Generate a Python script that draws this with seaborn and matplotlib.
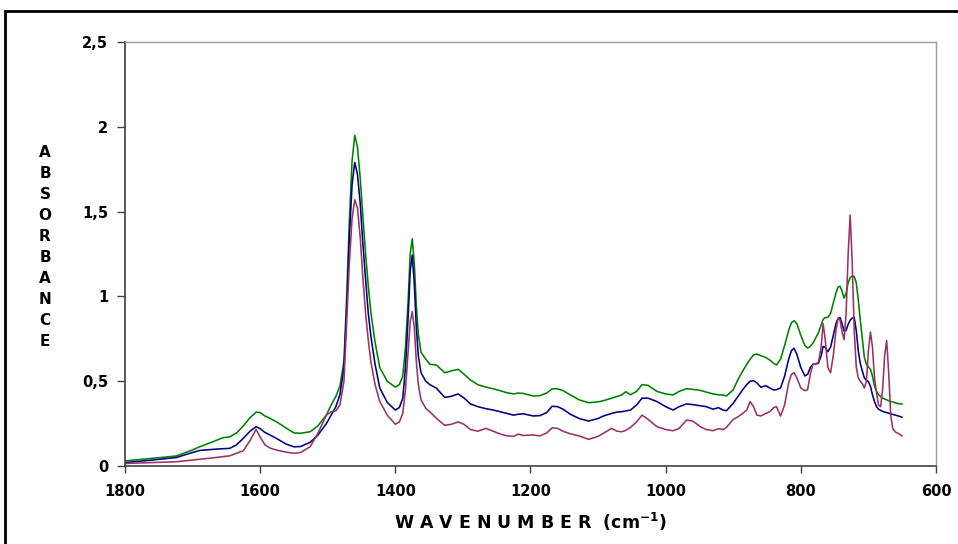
import matplotlib
matplotlib.use("Agg")
import matplotlib.pyplot as plt
from matplotlib.patches import Rectangle
import seaborn as sns
import pandas as pd

# ---- data ----
wavenumber = [1800, 1760, 1724, 1700, 1689, 1670, 1655, 1645, 1635, 1625, 1615, 1606, 1600, 1593, 1585,
              1576, 1562, 1550, 1540, 1526, 1515, 1502, 1495, 1488, 1482, 1476, 1472, 1468, 1464, 1460,
              1456, 1452, 1448, 1444, 1440, 1436, 1430, 1423, 1412, 1400, 1394, 1389, 1385, 1381, 1378,
              1375, 1372, 1369, 1366, 1362, 1355, 1349, 1339, 1327, 1318, 1307, 1298, 1289, 1278, 1266,
              1255, 1245, 1235, 1225, 1218, 1211, 1196, 1186, 1176, 1168, 1160, 1152, 1141, 1128, 1114,
              1100, 1092, 1080, 1072, 1065, 1059, 1052, 1043, 1035, 1026, 1013, 1000, 989, 980, 969,
              960, 948, 940, 930, 922, 915, 910, 900, 893, 886, 880, 875, 870, 865, 859,
              852, 846, 840, 836, 830, 824, 818, 814, 810, 806, 800, 794, 790, 786, 782,
              778, 774, 770, 767, 764, 760, 756, 752, 748, 745, 742, 739, 736, 733, 730,
              727, 724, 721, 718, 715, 712, 709, 706, 703, 700, 697, 694, 691, 688, 685,
              682, 679, 676, 673, 670, 667, 664, 660, 655, 650]

green = [0.030, 0.045, 0.059, 0.095, 0.114, 0.143, 0.167, 0.172, 0.195, 0.236, 0.285, 0.318, 0.315, 0.295, 0.280,
         0.261, 0.225, 0.195, 0.193, 0.202, 0.235, 0.300, 0.360, 0.410, 0.470, 0.620, 1.000, 1.450, 1.800, 1.950,
         1.880, 1.700, 1.470, 1.250, 1.060, 0.900, 0.730, 0.580, 0.500, 0.465, 0.480, 0.530, 0.700, 0.980, 1.250,
         1.340, 1.200, 0.950, 0.780, 0.670, 0.630, 0.600, 0.595, 0.550, 0.560, 0.570, 0.540, 0.507, 0.480, 0.465,
         0.455, 0.444, 0.432, 0.425, 0.430, 0.428, 0.413, 0.415, 0.430, 0.455, 0.455, 0.445, 0.419, 0.390, 0.373,
         0.378, 0.385, 0.400, 0.410, 0.419, 0.438, 0.420, 0.440, 0.480, 0.475, 0.440, 0.425, 0.419, 0.440, 0.456,
         0.452, 0.445, 0.436, 0.425, 0.420, 0.418, 0.413, 0.450, 0.510, 0.560, 0.600, 0.630, 0.655, 0.660, 0.650,
         0.640, 0.625, 0.605, 0.595, 0.630, 0.710, 0.800, 0.845, 0.857, 0.840, 0.770, 0.710, 0.695, 0.705, 0.725,
         0.755, 0.785, 0.830, 0.865, 0.875, 0.876, 0.900, 0.960, 1.020, 1.055, 1.060, 1.030, 0.990, 1.020, 1.080,
         1.110, 1.120, 1.118, 1.080, 0.980, 0.860, 0.750, 0.640, 0.600, 0.585, 0.570, 0.530, 0.470, 0.440, 0.420,
         0.410, 0.400, 0.395, 0.390, 0.385, 0.380, 0.378, 0.372, 0.367, 0.365]

blue = [0.020, 0.035, 0.050, 0.080, 0.092, 0.098, 0.102, 0.104, 0.125, 0.163, 0.205, 0.232, 0.220, 0.198, 0.182,
        0.163, 0.130, 0.113, 0.115, 0.140, 0.180, 0.250, 0.300, 0.350, 0.420, 0.580, 0.920, 1.350, 1.660, 1.790,
        1.720, 1.550, 1.310, 1.100, 0.900, 0.760, 0.600, 0.460, 0.375, 0.330, 0.345, 0.400, 0.580, 0.880, 1.150,
        1.244, 1.080, 0.820, 0.650, 0.550, 0.500, 0.480, 0.458, 0.405, 0.410, 0.425, 0.400, 0.366, 0.350, 0.338,
        0.330, 0.320, 0.310, 0.300, 0.305, 0.308, 0.295, 0.297, 0.315, 0.352, 0.350, 0.335, 0.305, 0.280, 0.265,
        0.280, 0.295, 0.310, 0.318, 0.320, 0.325, 0.330, 0.360, 0.400, 0.400, 0.380, 0.350, 0.330, 0.350, 0.366,
        0.362, 0.355, 0.350, 0.335, 0.344, 0.330, 0.326, 0.370, 0.410, 0.450, 0.480, 0.500, 0.503, 0.490, 0.464,
        0.474, 0.460, 0.448, 0.450, 0.460, 0.530, 0.630, 0.680, 0.694, 0.660, 0.580, 0.531, 0.540, 0.580, 0.600,
        0.602, 0.605, 0.650, 0.705, 0.700, 0.674, 0.700, 0.770, 0.840, 0.870, 0.875, 0.840, 0.795, 0.800, 0.835,
        0.860, 0.872, 0.877, 0.800, 0.680, 0.605, 0.560, 0.520, 0.505, 0.497, 0.470, 0.420, 0.380, 0.350, 0.335,
        0.328, 0.322, 0.318, 0.315, 0.312, 0.308, 0.305, 0.300, 0.294, 0.287]

magenta = [0.015, 0.020, 0.025, 0.035, 0.040, 0.048, 0.055, 0.060, 0.075, 0.090, 0.150, 0.216, 0.170, 0.125, 0.105,
           0.094, 0.082, 0.075, 0.080, 0.114, 0.190, 0.300, 0.320, 0.325, 0.360, 0.500, 0.850, 1.200, 1.460, 1.570,
           1.520, 1.350, 1.110, 0.900, 0.740, 0.610, 0.480, 0.380, 0.300, 0.246, 0.260, 0.310, 0.450, 0.680, 0.850,
           0.910, 0.820, 0.620, 0.480, 0.390, 0.340, 0.320, 0.280, 0.240, 0.245, 0.260, 0.245, 0.215, 0.205, 0.222,
           0.205, 0.189, 0.178, 0.175, 0.188, 0.180, 0.183, 0.177, 0.195, 0.225, 0.222, 0.205, 0.190, 0.177, 0.157,
           0.175, 0.193, 0.222, 0.205, 0.202, 0.210, 0.228, 0.260, 0.300, 0.275, 0.232, 0.215, 0.208, 0.222, 0.271,
           0.265, 0.230, 0.215, 0.208, 0.220, 0.215, 0.228, 0.275, 0.290, 0.310, 0.330, 0.380, 0.350, 0.300, 0.295,
           0.310, 0.320, 0.345, 0.350, 0.295, 0.360, 0.490, 0.540, 0.550, 0.520, 0.460, 0.444, 0.450, 0.540, 0.600,
           0.602, 0.610, 0.700, 0.840, 0.750, 0.580, 0.550, 0.650, 0.800, 0.870, 0.860, 0.790, 0.745, 0.900, 1.250,
           1.480, 1.200, 0.800, 0.585, 0.520, 0.500, 0.485, 0.460, 0.500, 0.680, 0.790, 0.700, 0.520, 0.430, 0.360,
           0.350, 0.450, 0.650, 0.740, 0.550, 0.300, 0.220, 0.200, 0.190, 0.177]

series_names = ["green", "blue", "magenta"]
series_colors = ["#008000", "#000080", "#993366"]
x_ticks = [1800, 1600, 1400, 1200, 1000, 800, 600]
y_ticks = [0, 0.5, 1, 1.5, 2, 2.5]
y_tick_labels = ["0", "0,5", "1", "1,5", "2", "2,5"]
y_label_letters = list("ABSORBANCE")
x_label = "W A V E N U M B E R  (cm$^{\\mathbf{-1}}$)"

# ---- build long-form table ----
frames = []
for name, vals in zip(series_names, [green, blue, magenta]):
    frames.append(pd.DataFrame({"wavenumber": wavenumber, "absorbance": vals, "series": name}))
df = pd.concat(frames, ignore_index=True)

sns.set_theme(style="white")
plt.rcParams["font.family"] = ["DejaVu Sans"]
plt.rcParams["text.color"] = "black"
plt.rcParams["xtick.color"] = "black"
plt.rcParams["ytick.color"] = "black"

fig = plt.figure(figsize=(9.58, 5.44), dpi=100)
ax = fig.add_axes([125 / 958, 1 - 466 / 544, 811 / 958, 424 / 544])

sns.lineplot(data=df, x="wavenumber", y="absorbance", hue="series",
             palette=dict(zip(series_names, series_colors)), estimator=None,
             sort=True, linewidth=1.15, legend=False, ax=ax)

ax.set_xlim(1800, 600)
ax.set_ylim(0, 2.5)
ax.set_xticks(x_ticks)
ax.set_xticklabels([str(t) for t in x_ticks], fontsize=10.5, fontweight="bold", color="black")
ax.set_yticks(y_ticks)
ax.set_yticklabels(y_tick_labels, fontsize=10.5, fontweight="bold", color="black")
ax.tick_params(axis="x", which="major", direction="out", length=5, width=1,
               color="#404040", pad=8, bottom=True)
ax.tick_params(axis="y", which="major", direction="out", length=6, width=1,
               color="#404040", pad=6, left=True)
ax.set_xlabel("")
ax.set_ylabel("")

for side in ["left", "bottom"]:
    ax.spines[side].set_color("#404040")
    ax.spines[side].set_linewidth(1.2)
for side in ["top", "right"]:
    ax.spines[side].set_color("#9a9a9a")
    ax.spines[side].set_linewidth(1.0)

# stacked y label
fig.text(45 / 958, 1 - 247 / 544, "\n".join(y_label_letters), ha="center", va="center",
         fontsize=11, fontweight="bold", linespacing=1.5, color="black")

# x label
fig.text(530.5 / 958, 1 - 522 / 544, x_label, ha="center", va="center",
         fontsize=12.5, fontweight="bold", color="black")

# outer frame (extends past right/bottom edges)
fig.patches.append(Rectangle((5 / 958, -0.2), 1.5, 1.2 - 11 / 544, fill=False,
                             edgecolor="black", linewidth=2, transform=fig.transFigure,
                             figure=fig, clip_on=False))

fig.savefig("out.png", dpi=100, facecolor="white")
